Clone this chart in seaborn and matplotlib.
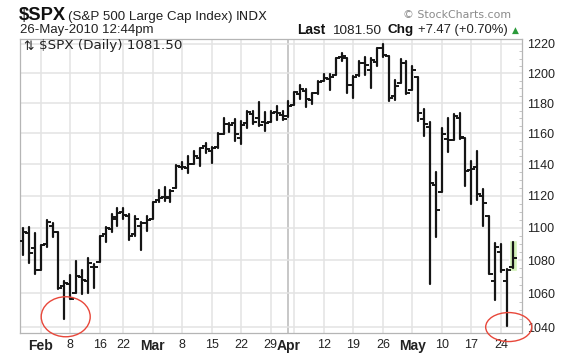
import numpy as np
import pandas as pd
import seaborn as sns
import matplotlib
matplotlib.use("Agg")
import matplotlib.pyplot as plt
from matplotlib.patches import Ellipse
from matplotlib.transforms import ScaledTranslation
from matplotlib.ticker import FixedLocator, NullFormatter, FixedFormatter

# ---------------- data (S&P 500 daily OHLC) ----------------
holidays = ["2010-02-15", "2010-04-02"]
dates = pd.bdate_range("2010-01-27", "2010-05-26")
dates = dates[~dates.isin(pd.to_datetime(holidays))]

opens = [1091.9, 1096.9, 1087.6, 1073.9, 1090.1, 1100.7, 1097.3, 1064.1, 1065.5, 1060.1,
         1069.7, 1067.1, 1075.9, 1079.1, 1096.1, 1099.0, 1105.5, 1110.0, 1107.5, 1095.9,
         1101.2, 1103.1, 1105.4, 1117.0, 1119.4, 1119.1, 1125.1, 1138.4, 1137.6, 1140.2,
         1143.9, 1151.7, 1148.5, 1150.8, 1159.9, 1166.1, 1166.7, 1157.3, 1166.5, 1172.7,
         1170.0, 1167.6, 1167.7, 1173.8, 1171.8, 1171.2, 1178.7, 1186.0, 1188.2, 1181.8,
         1187.0, 1194.9, 1195.9, 1198.7, 1210.8, 1210.2, 1192.1, 1199.0, 1207.2, 1202.5,
         1207.9, 1217.1, 1211.4, 1184.6, 1193.3, 1206.8, 1188.6, 1197.5, 1169.2, 1164.4,
         1127.0, 1122.3, 1156.4, 1155.4, 1170.0, 1157.2, 1136.5, 1138.2, 1119.6, 1107.3,
         1067.3, 1084.8, 1067.4, 1075.5]
highs = [1099.5, 1100.2, 1096.5, 1089.4, 1104.7, 1102.7, 1097.3, 1067.1, 1071.2, 1079.3,
         1073.7, 1081.0, 1077.8, 1095.0, 1100.1, 1108.2, 1112.4, 1112.3, 1108.6, 1107.3,
         1103.5, 1107.2, 1116.1, 1123.5, 1125.4, 1123.7, 1139.4, 1141.5, 1145.4, 1148.3,
         1150.2, 1153.4, 1151.0, 1160.3, 1169.8, 1167.1, 1169.2, 1167.8, 1174.7, 1174.6,
         1180.7, 1173.9, 1174.9, 1177.8, 1174.6, 1181.4, 1187.7, 1191.8, 1189.6, 1187.0,
         1194.7, 1199.2, 1199.5, 1210.7, 1213.9, 1210.2, 1197.9, 1208.5, 1211.0, 1210.3,
         1217.3, 1219.8, 1212.0, 1195.6, 1209.4, 1208.0, 1205.1, 1197.5, 1175.9, 1167.6,
         1135.1, 1163.2, 1170.1, 1172.6, 1173.6, 1157.2, 1141.9, 1148.7, 1124.3, 1107.3,
         1090.2, 1090.0, 1074.8, 1090.8]
lows = [1083.1, 1078.5, 1071.6, 1073.9, 1088.0, 1093.9, 1062.8, 1044.5, 1056.5, 1060.1,
        1059.3, 1060.3, 1063.0, 1079.1, 1091.1, 1097.5, 1100.8, 1105.4, 1092.2, 1094.6,
        1086.0, 1097.6, 1105.4, 1116.0, 1116.6, 1116.0, 1125.1, 1136.8, 1134.2, 1140.1,
        1139.0, 1147.0, 1141.0, 1150.4, 1159.9, 1161.2, 1155.3, 1152.9, 1163.8, 1166.4,
        1165.1, 1161.5, 1167.7, 1168.5, 1168.9, 1170.7, 1178.7, 1182.8, 1177.3, 1179.1,
        1186.0, 1194.7, 1188.8, 1198.7, 1208.4, 1186.8, 1183.7, 1198.0, 1198.9, 1190.2,
        1205.1, 1211.1, 1181.6, 1181.8, 1193.3, 1186.3, 1188.6, 1168.1, 1158.2, 1065.8,
        1094.2, 1122.3, 1147.7, 1155.4, 1156.1, 1126.1, 1115.0, 1117.2, 1100.7, 1071.6,
        1055.9, 1072.7, 1040.8, 1075.0]
closes = [1097.5, 1084.5, 1073.9, 1089.2, 1103.3, 1097.3, 1063.1, 1066.2, 1056.7, 1070.5,
          1068.1, 1078.5, 1075.5, 1094.9, 1099.5, 1106.8, 1109.2, 1108.0, 1094.6, 1105.2,
          1102.9, 1104.5, 1115.7, 1118.3, 1118.8, 1123.0, 1138.7, 1138.5, 1140.4, 1145.6,
          1150.2, 1150.0, 1150.5, 1159.5, 1166.2, 1165.8, 1159.9, 1165.8, 1174.2, 1167.7,
          1165.7, 1166.6, 1173.2, 1173.3, 1169.4, 1178.1, 1187.4, 1189.4, 1182.4, 1186.4,
          1194.4, 1196.5, 1197.3, 1210.7, 1211.7, 1192.1, 1197.5, 1207.2, 1205.9, 1208.7,
          1217.3, 1212.1, 1183.7, 1191.4, 1206.8, 1186.7, 1202.3, 1173.6, 1165.9, 1128.2,
          1110.9, 1159.7, 1155.8, 1171.7, 1157.4, 1135.7, 1136.9, 1120.8, 1115.1, 1071.6,
          1087.7, 1073.7, 1074.0, 1081.5]
yticks = [1040, 1060, 1080, 1100, 1120, 1140, 1160, 1180, 1200, 1220]

df = pd.DataFrame({"date": dates, "open": opens, "high": highs,
                   "low": lows, "close": closes})
df["i"] = np.arange(len(df))
n = len(df)

# ---------------- figure ----------------
sns.set_style("white")
plt.rcParams["font.family"] = ["Liberation Sans", "DejaVu Sans"]
W, H = 577, 356
fig = plt.figure(figsize=(W / 100, H / 100), dpi=100)
ax = fig.add_axes([20 / W, 23 / H, 502 / W, 294 / H])
ax.set_yscale("log")

# highlight of the latest bar
last = df.iloc[-1]
ax.bar([last["i"]], [last["high"] - last["low"] + 3], bottom=last["low"] - 1.5,
       width=1.3, color="#d2f2b8", zorder=1)

# high-low bars
long = pd.concat([df[["i", "low"]].rename(columns={"low": "price"}),
                  df[["i", "high"]].rename(columns={"high": "price"})])
sns.lineplot(data=long, x="i", y="price", units="i", estimator=None, sort=False,
             color="#151515", lw=1.6, ax=ax, legend=False, zorder=3)
ax.plot(df["i"], df["open"], ls="none", marker=0, ms=3.2, mew=1.4, color="#151515", zorder=3)
ax.plot(df["i"], df["close"], ls="none", marker=1, ms=3.2, mew=1.4, color="#151515", zorder=3)

# axes limits
ax.set_xlim(-0.51, 84.58)
ax.set_ylim(1036.5, 1223.4)

# y axis (right)
ax.yaxis.tick_right()
ax.yaxis.set_major_locator(FixedLocator(yticks))
ax.yaxis.set_major_formatter(FixedFormatter([str(v) for v in yticks]))
ax.yaxis.set_minor_locator(FixedLocator(list(range(1040, 1225, 5))))
ax.yaxis.set_minor_formatter(NullFormatter())
ax.tick_params(axis="y", which="major", length=0, pad=4, labelsize=9, labelcolor="#222222")
ax.tick_params(axis="y", which="minor", length=2, direction="in", color="#bbbbbb", width=0.6)

# x axis: week starts and month starts
week = df["date"].dt.isocalendar().week.values
month = df["date"].dt.month.values
pos, labs, is_month = [], [], []
for k in range(1, n):
    new_m = month[k] != month[k - 1]
    new_w = week[k] != week[k - 1]
    if new_m:
        pos.append(k); labs.append(df["date"].iloc[k].strftime("%b")); is_month.append(True)
    elif new_w:
        near = any(m and abs(p - k) <= 2 for p, m in zip(pos, is_month))
        pos.append(k); labs.append("" if near else str(df["date"].iloc[k].day)); is_month.append(False)
ax.set_xticks(pos)
ax.set_xticklabels(labs)
for t, m in zip(ax.get_xticklabels(), is_month):
    t.set_fontweight("bold" if m else "normal")
    t.set_fontsize(10 if m else 9)
ax.set_xticks(range(n), minor=True)
ax.tick_params(axis="x", which="major", length=0, pad=4, labelcolor="#222222")
ax.tick_params(axis="x", which="minor", length=2, direction="in", color="#bbbbbb", width=0.6)
ax.set_xlabel(""); ax.set_ylabel("")

ax.grid(True, which="major", color="#e3e3e3", lw=1.1, zorder=0)
ax.set_axisbelow(True)
for gl, p, m in zip(ax.xaxis.get_gridlines(), pos, is_month):
    if m and df["date"].iloc[p].dayofweek != 0:
        gl.set_color("#b8b8b8")
for s in ax.spines.values():
    s.set_color("#b5b5b5"); s.set_linewidth(0.9)

# red ellipses around the two lows
def ring(idx, dx, dy, w, h):
    tr = fig.dpi_scale_trans + ScaledTranslation(df["i"].iloc[idx], df["low"].iloc[idx], ax.transData)
    e = Ellipse((dx / 100, -dy / 100), w / 100, h / 100, transform=tr, fill=False,
                edgecolor="#e8473a", lw=1.0, clip_on=False, zorder=5)
    ax.add_patch(e)

ring(int(np.argmin(lows[:20])), 1.4, -2.6, 49, 40)
ring(n - 2, 1.9, 1.4, 46, 29)

# header / labels in figure pixel coordinates
def fx(x): return x / W
def fy(y): return 1 - y / H

fig.text(fx(23), fy(46), "⇅", fontsize=9, family="DejaVu Sans", va="center",
         ha="left", color="#222222")
fig.text(fx(39), fy(46), "$SPX (Daily) 1081.50", fontsize=9.7, family="DejaVu Sans",
         va="center", ha="left", color="#222222")

fig.text(fx(19), fy(20), "$SPX", fontsize=13.2, fontweight="bold", color="#111111", va="baseline")
fig.text(fx(68), fy(20), "(S&P 500 Large Cap Index)", fontsize=9.6, color="#222222", va="baseline")
fig.text(fx(236), fy(20), "INDX", fontsize=9.2, family="DejaVu Sans", color="#222222", va="baseline")
fig.text(fx(403), fy(18), "© StockCharts.com", fontsize=7.9, family="DejaVu Sans",
         color="#8a8a8a", va="baseline", ha="left")
fig.text(fx(20), fy(33.5), "26-May-2010 12:44pm", fontsize=9.5, color="#222222", va="baseline")

fig.text(fx(297), fy(33.5), "Last", fontsize=9.9, fontweight="bold", color="#111111", va="baseline")
fig.text(fx(332), fy(33.5), "1081.50", fontsize=9.7, color="#222222", va="baseline")
fig.text(fx(387), fy(33.5), "Chg", fontsize=9.7, fontweight="bold", color="#111111", va="baseline")
fig.text(fx(418), fy(33.5), "+7.47 (+0.70%)", fontsize=9.4, color="#222222", va="baseline")
fig.text(fx(512), fy(32.5), "▲", fontsize=6.5, family="DejaVu Sans", color="#2a9a3a", va="baseline")

fig.savefig("out.png", dpi=100)
